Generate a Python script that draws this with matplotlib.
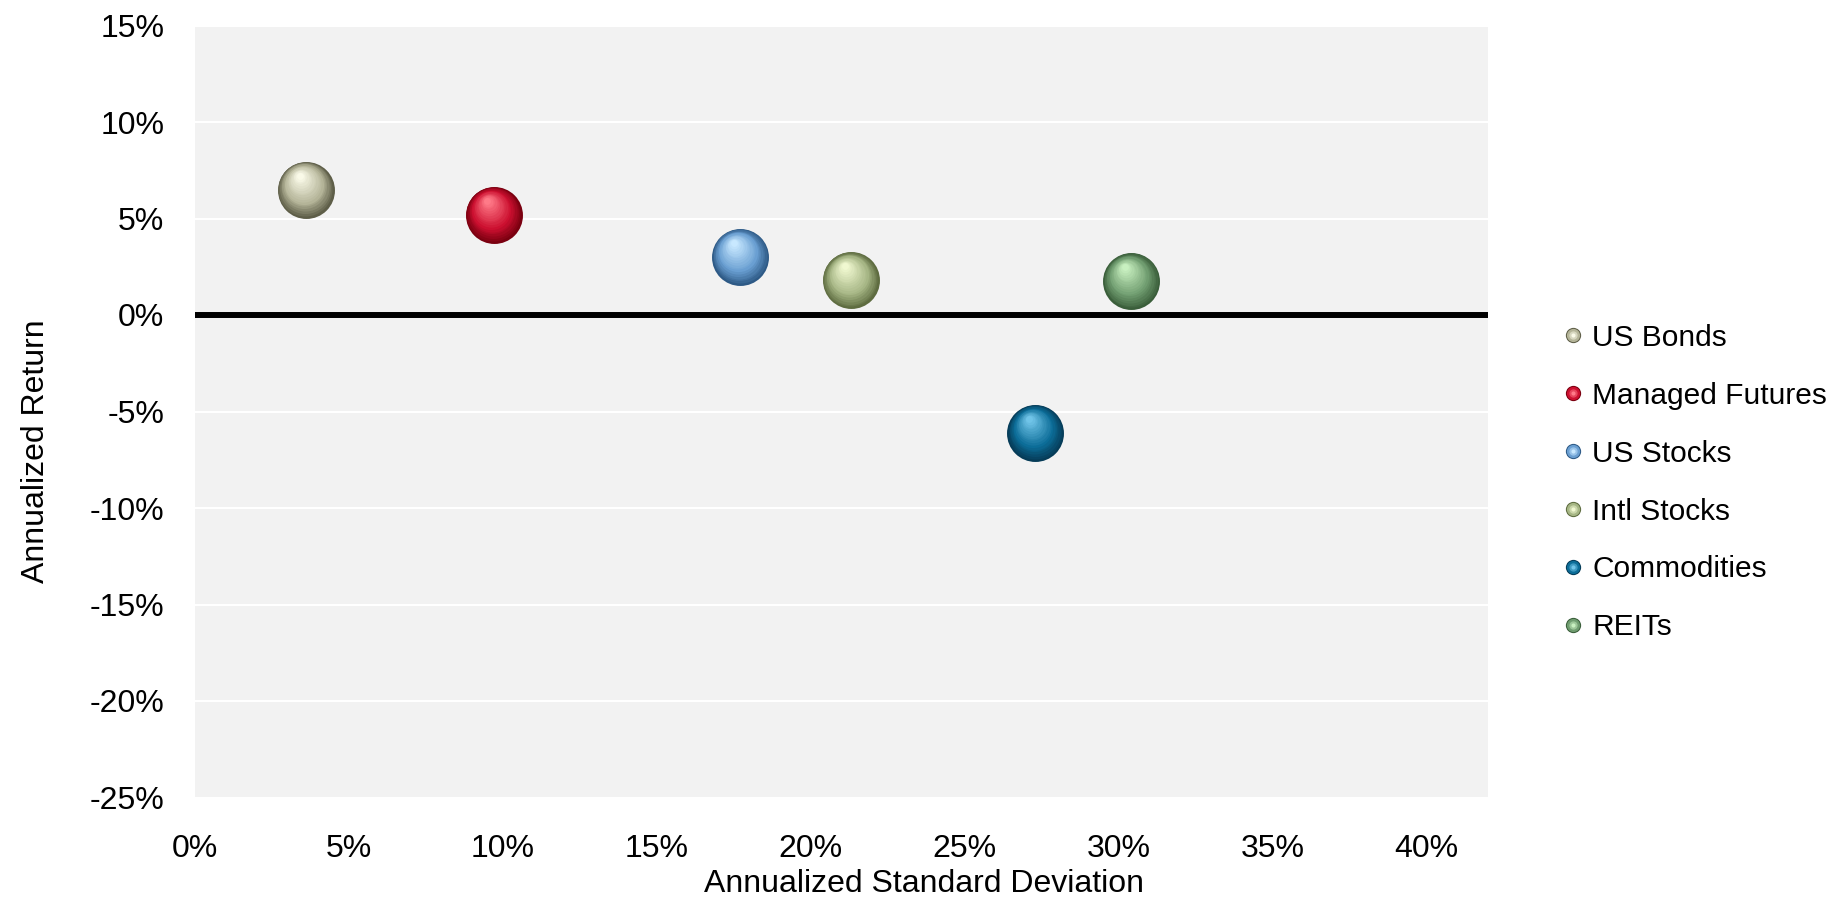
import matplotlib
matplotlib.use("Agg")
import matplotlib.pyplot as plt
import matplotlib.transforms as mtransforms
from matplotlib.lines import Line2D
from matplotlib.legend_handler import HandlerTuple
import numpy as np
from matplotlib.colors import to_rgb

# ---- data ----
assets = ["US Bonds", "Managed Futures", "US Stocks", "Intl Stocks", "Commodities", "REITs"]
std_dev = [3.6, 9.7, 17.7, 21.3, 27.3, 30.4]       # annualized std dev (%)
returns = [6.5, 5.2, 3.0, 1.8, -6.1, 1.75]        # annualized return (%)
dark_cols = ["#5e5e48", "#7a0010", "#2e5a86", "#5e6c40", "#063c58", "#3a5e3a"]
mid_cols = ["#b4b498", "#cc1030", "#6a9fd2", "#a6b685", "#0c6d98", "#6f9c6f"]
light_cols = ["#fafae8", "#ff7a88", "#c8e8ff", "#f0f8d0", "#70c4e8", "#c8f0c0"]
x_ticks = [0, 5, 10, 15, 20, 25, 30, 35, 40]
y_ticks = [15, 10, 5, 0, -5, -10, -15, -20, -25]

plt.rcParams['font.family'] = ['Liberation Sans', 'DejaVu Sans']

W, H = 1849, 902
fig = plt.figure(figsize=(W / 100, H / 100), dpi=100)
ax = fig.add_axes([195 / W, 1 - 797.5 / H, (1488 - 195) / W, (797.5 - 25.5) / H])
ax.set_facecolor("#f2f2f2")
ax.set_xlim(0, 42)
ax.set_ylim(-25, 15)
for s in ax.spines.values():
    s.set_visible(False)

ax.set_yticks(y_ticks)
ax.set_yticklabels([f"{v}%" for v in y_ticks], fontsize=23)
ax.set_xticks(x_ticks)
ax.set_xticklabels([f"{v}%" for v in x_ticks], fontsize=23)
ax.tick_params(length=0, pad=22)
ax.tick_params(axis='x', pad=26)
for v in y_ticks:
    if v != 0:
        ax.axhline(v, color="white", lw=1.5, zorder=1)
ax.axhline(0, color="black", lw=4.3, zorder=2)


def blend(c1, c2, t):
    a, b = np.array(to_rgb(c1)), np.array(to_rgb(c2))
    return tuple(a + (b - a) * t)


def sphere(x, y, dark, mid, light, d_pt=41, n=18):
    R = d_pt / 2
    for i in range(n):
        t = i / (n - 1)
        r = 1 - 0.88 * t
        if t < 0.35:
            col = blend(dark, mid, t / 0.35)
        else:
            col = blend(mid, light, (t - 0.35) / 0.65)
        shift = (1 - r) * R * 0.55
        trans = ax.transData + mtransforms.ScaledTranslation(-shift * 0.45 / 72, shift / 72, fig.dpi_scale_trans)
        ax.scatter([x], [y], s=(d_pt * r) ** 2, color=col, linewidths=0,
                   transform=trans, zorder=3 + i * 0.01)


for xi, yi, dc, mc, lc in zip(std_dev, returns, dark_cols, mid_cols, light_cols):
    sphere(xi, yi, dc, mc, lc)

# legend with sphere-like markers
handles = []
for dc, mc, lc in zip(dark_cols, mid_cols, light_cols):
    parts = []
    for sz, col in [(11, dc), (9.5, mc), (6, blend(mc, lc, 0.5)), (3, lc)]:
        parts.append(Line2D([], [], ls="none", marker="o", markersize=sz,
                            markerfacecolor=col, markeredgewidth=0))
    handles.append(tuple(parts))
leg = fig.legend(handles, assets, loc="upper left", bbox_to_anchor=(1549 / W, 1 - 309 / H),
                 handler_map={tuple: HandlerTuple(ndivide=1, pad=0)},
                 frameon=False, fontsize=21.5, handlelength=0.6, handletextpad=0.35,
                 labelspacing=1.0, borderpad=0)

fig.text(0.5, 1 - 884 / H, "Annualized Standard Deviation", ha="center", va="center", fontsize=23)
fig.text(36 / W, 0.5, "Annualized Return", ha="center", va="center", rotation=90, fontsize=23)

fig.savefig("out.png", dpi=100)
